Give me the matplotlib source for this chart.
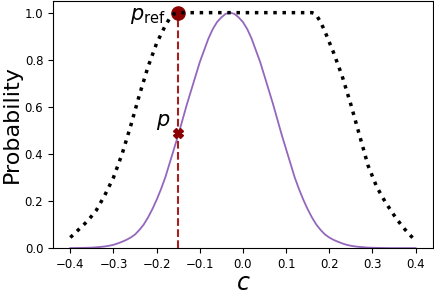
import numpy as np
import matplotlib
matplotlib.use("Agg")
import matplotlib.pyplot as plt

# purple curve: probability p(c)
c_p = [-0.40, -0.37, -0.35, -0.33, -0.32, -0.31, -0.30, -0.29, -0.28, -0.27,
       -0.26, -0.25, -0.24, -0.23, -0.22, -0.21, -0.20, -0.19, -0.18, -0.17,
       -0.16, -0.15, -0.14, -0.13, -0.12, -0.11, -0.10, -0.09, -0.08, -0.07,
       -0.06, -0.05, -0.04, -0.03, -0.02, -0.01, 0.00, 0.01, 0.02, 0.03,
       0.04, 0.05, 0.06, 0.07, 0.08, 0.09, 0.10, 0.11, 0.12, 0.13,
       0.14, 0.15, 0.16, 0.17, 0.18, 0.19, 0.20, 0.21, 0.22, 0.23,
       0.24, 0.25, 0.26, 0.27, 0.29, 0.31, 0.34, 0.40]
p_p = [0.0, 0.001, 0.002, 0.005, 0.007, 0.010, 0.014, 0.020, 0.027, 0.035,
       0.045, 0.058, 0.077, 0.100, 0.130, 0.165, 0.205, 0.250, 0.300, 0.360,
       0.420, 0.480, 0.545, 0.610, 0.670, 0.730, 0.790, 0.840, 0.890, 0.930,
       0.960, 0.980, 0.995, 1.000, 0.995, 0.980, 0.960, 0.930, 0.890, 0.840,
       0.790, 0.730, 0.670, 0.610, 0.545, 0.480, 0.420, 0.360, 0.300, 0.250,
       0.205, 0.165, 0.130, 0.100, 0.077, 0.058, 0.045, 0.035, 0.027, 0.020,
       0.014, 0.010, 0.007, 0.005, 0.002, 0.001, 0.0, 0.0]

# black dotted curve: reference probability envelope
c_ref = [-0.40, -0.38, -0.36, -0.34, -0.32, -0.30, -0.28, -0.26, -0.24, -0.22,
         -0.20, -0.18, -0.17, -0.16, -0.15, 0.16, 0.165, 0.17, 0.18, 0.19,
         0.21, 0.23, 0.25, 0.27, 0.29, 0.31, 0.33, 0.35, 0.37, 0.39, 0.40]
p_ref = [0.045, 0.080, 0.115, 0.160, 0.225, 0.300, 0.400, 0.520, 0.650, 0.770,
         0.870, 0.945, 0.975, 0.995, 1.000, 1.000, 0.997, 0.990, 0.960, 0.920,
         0.830, 0.730, 0.610, 0.480, 0.350, 0.260, 0.195, 0.140, 0.090, 0.050,
         0.030]

c0 = -0.15
p0 = 0.49
pref0 = 1.0

fig = plt.figure(figsize=(4.35, 2.95), dpi=100)
ax = fig.add_axes([0.122, 0.159, 0.873, 0.838])

ax.plot(c_p, p_p, color='tab:purple', lw=1.3, zorder=2)
ax.plot([c0, c0], [0, pref0], color='#a52020', lw=1.5, ls='--', zorder=3)
ax.plot(c0, pref0, 'o', color='darkred', ms=9.5, zorder=4)
ax.plot(c0, p0, 'X', color='darkred', ms=7, zorder=4)
ax.plot(c_ref, p_ref, color='black', lw=2.5, ls=':', zorder=5)

ax.text(-0.18, 0.97, r'$p_\mathrm{ref}$', fontsize=15, ha='right', va='baseline')
ax.text(-0.168, 0.52, r'$p$', fontsize=15, ha='right', va='baseline')

ax.set_xlim(-0.44, 0.44)
ax.set_ylim(0, 1.05)
ax.set_xticks(np.arange(-0.4, 0.41, 0.1))
ax.set_yticks(np.arange(0, 1.01, 0.2))
ax.tick_params(labelsize=8.5)
ax.set_xlabel(r'$c$', fontsize=17, labelpad=0)
ax.set_ylabel('Probability', fontsize=16, labelpad=2)

fig.savefig('out.png', dpi=100)
